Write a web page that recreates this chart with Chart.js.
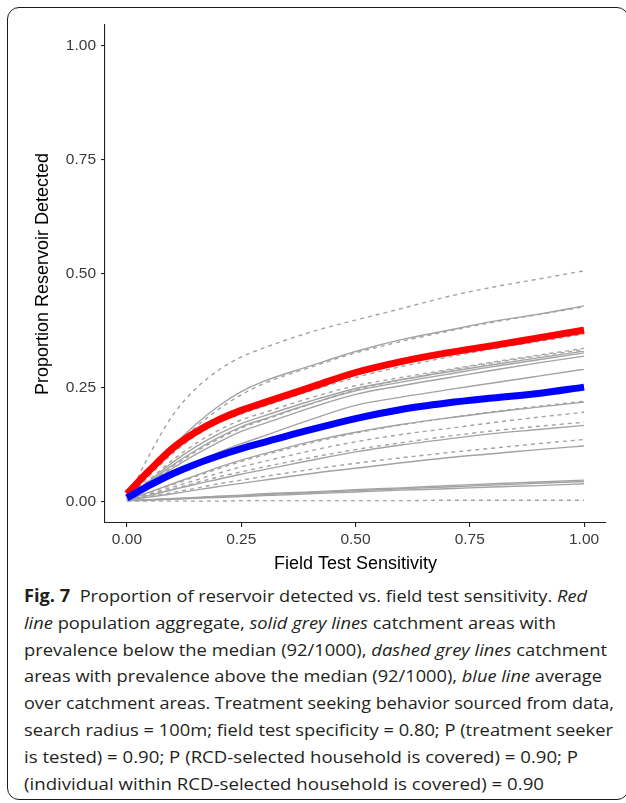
<!DOCTYPE html>
<html>
<head>
<meta charset="utf-8">
<script src="https://cdn.jsdelivr.net/npm/chart.js@4.4.1/dist/chart.umd.min.js"></script>
<style>
  body { margin: 0; width: 626px; height: 803px; background: #fff; position: relative; overflow: hidden; }
  .frame { position: absolute; left: 7px; top: 7px; width: 622px; height: 793px; box-sizing: border-box;
           border: 1.5px solid #1a1a1a; border-radius: 12px; }
  #chart { position: absolute; left: 0; top: 0; }
  .caption { position: absolute; left: 24px; top: 583px; font-family: "Open Sans", sans-serif;
             font-size: 17.2px; color: #231f20; }
  .caption div { height: 26.8px; line-height: 26.8px; white-space: nowrap; width: max-content; transform-origin: 0 50%; }
  .caption b { font-weight: 700; }
</style>
</head>
<body>
<div class="frame"></div>
<canvas id="chart" width="626" height="580"></canvas>
<div class="caption" id="caption">
  <div><b>Fig. 7</b>&nbsp;&nbsp;Proportion of reservoir detected vs. field test sensitivity. <i>Red</i></div>
  <div><i>line</i> population aggregate, <i>solid grey lines</i> catchment areas with</div>
  <div>prevalence below the median (92/1000), <i>dashed grey lines</i> catchment</div>
  <div>areas with prevalence above the median (92/1000), <i>blue line</i> average</div>
  <div>over catchment areas. Treatment seeking behavior sourced from data,</div>
  <div>search radius = 100m; field test specificity = 0.80; P (treatment seeker</div>
  <div>is tested) = 0.90; P (RCD-selected household is covered) = 0.90; P</div>
  <div>(individual within RCD-selected household is covered) = 0.90</div>
</div>
<script>
// field test sensitivity (x values shared by all lines)
const sens = [0, 0.05, 0.1, 0.15, 0.2, 0.25, 0.3, 0.4, 0.5, 0.6, 0.7, 0.8, 0.9, 1.0];
const xTicks = [0, 0.25, 0.5, 0.75, 1];
const yTicks = [0, 0.25, 0.5, 0.75, 1];

// red: population aggregate, blue: average over catchment areas
const aggregate = [0.018, 0.070, 0.118, 0.153, 0.180, 0.201, 0.218, 0.251, 0.284, 0.308, 0.327, 0.343, 0.360, 0.377];
const average   = [0.009, 0.037, 0.062, 0.083, 0.101, 0.117, 0.131, 0.158, 0.183, 0.203, 0.217, 0.228, 0.238, 0.252];

// solid grey: catchment areas below the median prevalence
const below1  = [0.005, 0.065, 0.122, 0.170, 0.210, 0.242, 0.265, 0.298, 0.330, 0.356, 0.376, 0.396, 0.412, 0.430];
const below2  = [0.005, 0.047, 0.087, 0.121, 0.149, 0.172, 0.189, 0.221, 0.249, 0.268, 0.285, 0.301, 0.316, 0.331];
const below3  = [0.005, 0.044, 0.081, 0.113, 0.141, 0.165, 0.182, 0.215, 0.244, 0.263, 0.280, 0.297, 0.312, 0.327];
const below4  = [0.005, 0.040, 0.074, 0.104, 0.131, 0.155, 0.172, 0.206, 0.236, 0.255, 0.272, 0.289, 0.305, 0.320];
const below5  = [0.005, 0.036, 0.064, 0.088, 0.109, 0.128, 0.145, 0.180, 0.212, 0.230, 0.246, 0.261, 0.276, 0.291];
const below6  = [0.004, 0.022, 0.040, 0.058, 0.076, 0.092, 0.106, 0.132, 0.153, 0.170, 0.184, 0.197, 0.208, 0.219];
const below7  = [0.004, 0.015, 0.027, 0.039, 0.050, 0.061, 0.071, 0.091, 0.110, 0.125, 0.138, 0.150, 0.159, 0.168];
const below8  = [0.004, 0.011, 0.018, 0.026, 0.034, 0.041, 0.048, 0.062, 0.074, 0.086, 0.097, 0.106, 0.115, 0.123];
const below9  = [0.003, 0.005, 0.008, 0.010, 0.013, 0.015, 0.018, 0.022, 0.027, 0.031, 0.036, 0.040, 0.044, 0.048];
const below10 = [0.003, 0.005, 0.007, 0.009, 0.012, 0.014, 0.016, 0.021, 0.025, 0.029, 0.033, 0.037, 0.041, 0.045];
const below11 = [0.003, 0.004, 0.006, 0.008, 0.010, 0.012, 0.014, 0.018, 0.022, 0.026, 0.029, 0.033, 0.036, 0.040];

// dashed grey: catchment areas above the median prevalence
const above1  = [0.005, 0.105, 0.190, 0.248, 0.289, 0.318, 0.338, 0.372, 0.399, 0.424, 0.450, 0.471, 0.489, 0.507];
const above2  = [0.005, 0.063, 0.118, 0.164, 0.203, 0.235, 0.260, 0.295, 0.327, 0.352, 0.374, 0.394, 0.411, 0.428];
const above3  = [0.005, 0.058, 0.106, 0.145, 0.173, 0.193, 0.210, 0.243, 0.273, 0.297, 0.317, 0.336, 0.352, 0.368];
const above4  = [0.005, 0.050, 0.092, 0.128, 0.157, 0.180, 0.196, 0.228, 0.255, 0.273, 0.290, 0.307, 0.322, 0.337];
const above5  = [0.005, 0.042, 0.078, 0.110, 0.138, 0.162, 0.180, 0.214, 0.246, 0.268, 0.288, 0.305, 0.320, 0.334];
const above6  = [0.004, 0.021, 0.038, 0.056, 0.073, 0.089, 0.103, 0.129, 0.151, 0.169, 0.184, 0.198, 0.210, 0.221];
const above7  = [0.004, 0.018, 0.033, 0.048, 0.063, 0.077, 0.089, 0.112, 0.132, 0.148, 0.161, 0.174, 0.186, 0.197];
const above8  = [0.004, 0.016, 0.029, 0.042, 0.055, 0.066, 0.077, 0.097, 0.115, 0.130, 0.144, 0.156, 0.166, 0.175];
const above9  = [0.004, 0.012, 0.021, 0.030, 0.040, 0.048, 0.056, 0.071, 0.085, 0.097, 0.108, 0.118, 0.128, 0.137];
const above10 = [0.002, 0.002, 0.002, 0.002, 0.002, 0.003, 0.003, 0.003, 0.003, 0.003, 0.004, 0.004, 0.004, 0.004];

const belowMedian = [below1, below2, below3, below4, below5, below6, below7, below8, below9, below10, below11];
const aboveMedian = [above1, above2, above3, above4, above5, above6, above7, above8, above9, above10];

const GREY = '#a3a3a3';
const toPoints = ys => ys.map((y, i) => ({ x: sens[i], y: y }));

function line(ys, color, width, dash) {
  return {
    data: toPoints(ys),
    borderColor: color,
    borderWidth: width,
    borderDash: dash || [],
    borderCapStyle: 'butt',
    pointRadius: 0,
    fill: false,
    cubicInterpolationMode: 'monotone'
  };
}

// first dataset is drawn on top
const datasets = [
  line(average, '#0000ff', 7),
  line(aggregate, '#ff0000', 7)
];
belowMedian.forEach(ys => datasets.push(line(ys, GREY, 1.4)));
aboveMedian.forEach(ys => datasets.push(line(ys, GREY, 1.4, [4, 4])));

const tickFont = { family: '"Liberation Sans", Arial, sans-serif', size: 15.5 };
const titleFont = { family: '"Liberation Sans", Arial, sans-serif', size: 18 };

new Chart(document.getElementById('chart'), {
  type: 'line',
  data: { datasets: datasets },
  options: {
    responsive: false,
    animation: false,
    devicePixelRatio: 1,
    layout: { padding: { top: 25, right: 20, left: 0, bottom: 0 } },
    plugins: { legend: { display: false }, tooltip: { enabled: false } },
    scales: {
      x: {
        type: 'linear',
        min: -0.048, max: 1.048,
        afterBuildTicks: s => { s.ticks = xTicks.map(v => ({ value: v })); },
        afterFit: s => { s.height = 57; },
        ticks: { font: tickFont, color: '#3a3a3a', padding: 3, callback: v => v.toFixed(2), maxRotation: 0 },
        grid: { drawOnChartArea: false, drawTicks: true, tickLength: 4, tickColor: '#222', lineWidth: 1.1 },
        border: { display: true, color: '#222', width: 1.1 },
        title: { display: true, text: 'Field Test Sensitivity', font: titleFont, color: '#000', padding: { top: 0, bottom: 5 } }
      },
      y: {
        type: 'linear',
        min: -0.046, max: 1.046,
        afterBuildTicks: s => { s.ticks = yTicks.map(v => ({ value: v })); },
        afterFit: s => { s.width = 105; },
        ticks: { font: tickFont, color: '#3a3a3a', padding: 5, callback: v => v.toFixed(2) },
        grid: { drawOnChartArea: false, drawTicks: true, tickLength: 4, tickColor: '#222', lineWidth: 1.1 },
        border: { display: true, color: '#222', width: 1.1 },
        title: { display: true, text: 'Proportion Reservoir Detected', font: titleFont, color: '#000', padding: { top: 32, bottom: 0 } }
      }
    }
  }
});

// squeeze each caption line to the width it has in the printed figure
const lineEnds = [587, 556, 607, 602, 614, 613, 578, 544];
document.querySelectorAll('#caption div').forEach((el, i) => {
  const w = el.getBoundingClientRect().width;
  el.style.transform = 'scaleX(' + ((lineEnds[i] - 24) / w) + ')';
});
</script>
</body>
</html>
